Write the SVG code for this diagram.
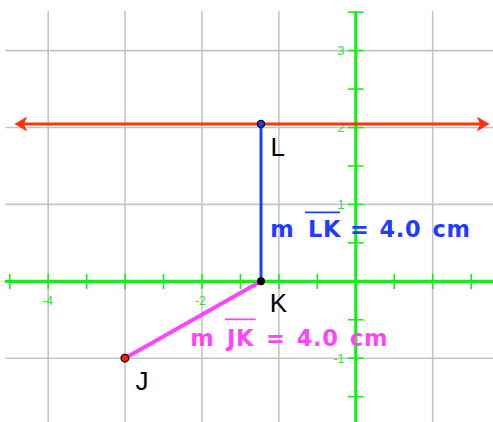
<svg xmlns="http://www.w3.org/2000/svg" width="493" height="422" viewBox="0 0 493 422">
<style>
.grid line{stroke:#c4c4c4;stroke-width:1.6}
.axis{stroke:#16ee16;stroke-width:3.2;fill:none}
.tick{stroke:#16ee16;stroke-width:1.6}
.num{font-family:"Liberation Sans",Arial,sans-serif;font-size:12.5px;fill:#33dd33}
.ptlabel{font-family:"Liberation Sans",Arial,sans-serif;font-size:26px;fill:#000}
.meas{font-family:"DejaVu Sans",Verdana,sans-serif;font-size:22.5px;font-weight:bold;letter-spacing:0.6px}
</style>
<defs>
<marker id="arr" viewBox="0 0 13 16" refX="7.3" refY="8" markerWidth="13" markerHeight="16" markerUnits="userSpaceOnUse" orient="auto-start-reverse">
<path d="M13,8 L0,0.5 L3.5,8 L0,15.5 Z" fill="#ff3311"/>
</marker>
</defs>
<rect width="493" height="422" fill="#fff"/>
<g id="grid" class="grid">
<line x1="48.2" y1="11" x2="48.2" y2="422"/>
<line x1="125.1" y1="11" x2="125.1" y2="422"/>
<line x1="202" y1="11" x2="202" y2="422"/>
<line x1="278.9" y1="11" x2="278.9" y2="422"/>
<line x1="432.7" y1="11" x2="432.7" y2="422"/>
<line x1="5.5" y1="50.6" x2="493" y2="50.6"/>
<line x1="5.5" y1="127.5" x2="493" y2="127.5"/>
<line x1="5.5" y1="204.4" x2="493" y2="204.4"/>
<line x1="5.5" y1="358.2" x2="493" y2="358.2"/>
</g>
<g id="axes">
<line class="axis" x1="5" y1="281.3" x2="493" y2="281.3"/>
<line class="axis" x1="355.8" y1="11" x2="355.8" y2="422"/>
<g class="tick">
<line x1="9.75" y1="274" x2="9.75" y2="289"/>
<line x1="48.2" y1="274" x2="48.2" y2="289"/>
<line x1="86.65" y1="274" x2="86.65" y2="289"/>
<line x1="125.1" y1="274" x2="125.1" y2="289"/>
<line x1="163.55" y1="274" x2="163.55" y2="289"/>
<line x1="202" y1="274" x2="202" y2="289"/>
<line x1="240.45" y1="274" x2="240.45" y2="289"/>
<line x1="278.9" y1="274" x2="278.9" y2="289"/>
<line x1="317.35" y1="274" x2="317.35" y2="289"/>
<line x1="394.25" y1="274" x2="394.25" y2="289"/>
<line x1="432.7" y1="274" x2="432.7" y2="289"/>
<line x1="471.15" y1="274" x2="471.15" y2="289"/>
<line x1="348" y1="12.15" x2="363.5" y2="12.15"/>
<line x1="348" y1="50.6" x2="363.5" y2="50.6"/>
<line x1="348" y1="89.05" x2="363.5" y2="89.05"/>
<line x1="348" y1="127.5" x2="363.5" y2="127.5"/>
<line x1="348" y1="165.95" x2="363.5" y2="165.95"/>
<line x1="348" y1="204.4" x2="363.5" y2="204.4"/>
<line x1="348" y1="242.85" x2="363.5" y2="242.85"/>
<line x1="348" y1="319.75" x2="363.5" y2="319.75"/>
<line x1="348" y1="358.2" x2="363.5" y2="358.2"/>
<line x1="348" y1="396.65" x2="363.5" y2="396.65"/>
</g>
<text class="num" x="47.5" y="305" text-anchor="middle">-4</text>
<text class="num" x="200.5" y="305" text-anchor="middle">-2</text>
<text class="num" x="344.5" y="55" text-anchor="end">3</text>
<text class="num" x="344.5" y="131.7" text-anchor="end">2</text>
<text class="num" x="344.5" y="208.5" text-anchor="end">1</text>
<text class="num" x="344.5" y="362.5" text-anchor="end">-1</text>
</g>
<g id="connectors">
<line id="line-L" x1="20" y1="124" x2="484" y2="124" stroke="#ff3311" stroke-width="3" marker-start="url(#arr)" marker-end="url(#arr)"/>
<line id="seg-LK" x1="261" y1="124" x2="261" y2="281.3" stroke="#1f3cff" stroke-width="3"/>
<line id="seg-JK" x1="124.9" y1="358.2" x2="261" y2="281.3" stroke="#ff44ff" stroke-width="4"/>
</g>
<g id="node-L">
<circle cx="261" cy="124" r="3.6" fill="#1f3cff" stroke="#000" stroke-width="1.3"/>
<text class="ptlabel" x="270.4" y="155.7">L</text>
</g>
<g id="node-K">
<circle cx="261" cy="281.3" r="4" fill="#000"/>
<text class="ptlabel" x="269.7" y="312.3">K</text>
</g>
<g id="node-J">
<circle cx="124.9" cy="358.2" r="3.8" fill="#ff2200" stroke="#000" stroke-width="1.3"/>
<text class="ptlabel" x="135.5" y="390">J</text>
</g>
<g id="label-LK" fill="#1f3cff">
<text class="meas" y="237.3"><tspan x="270.3">m</tspan><tspan x="308">LK</tspan><tspan x="350">=</tspan><tspan x="379.5">4.0</tspan><tspan x="432.5">cm</tspan></text>
<line x1="305" y1="212.3" x2="340" y2="212.3" stroke="#1f3cff" stroke-width="1.8"/>
</g>
<g id="label-JK" fill="#ff44ff">
<text class="meas" y="346"><tspan x="190.3">m</tspan><tspan x="227">JK</tspan><tspan x="266">=</tspan><tspan x="296.8">4.0</tspan><tspan x="350">cm</tspan></text>
<line x1="225" y1="319.3" x2="255.7" y2="319.3" stroke="#ff44ff" stroke-width="1.8"/>
</g>
</svg>
